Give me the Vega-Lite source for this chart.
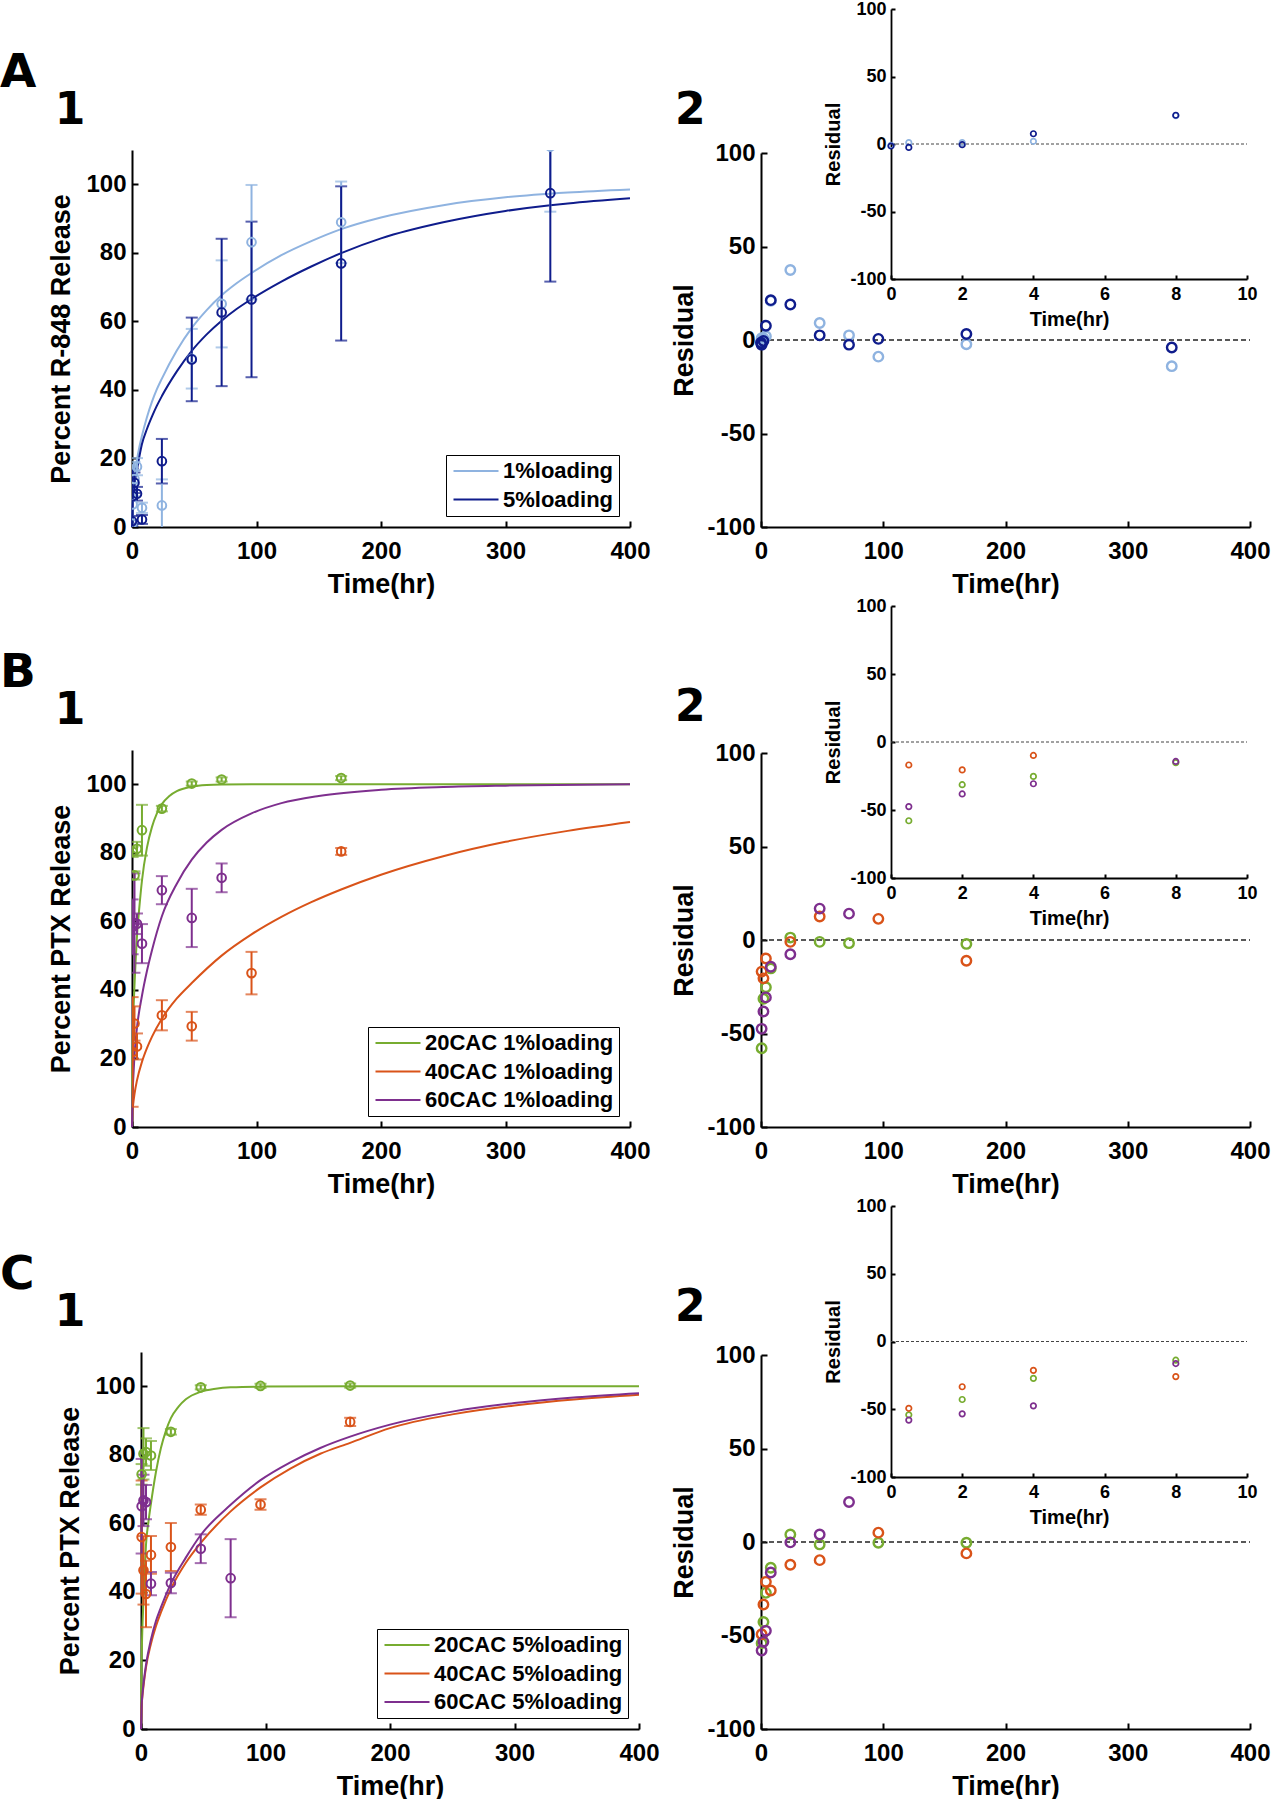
{
  "$schema": "https://vega.github.io/schema/vega-lite/v6.json",
  "padding": 0,
  "background": "white",
  "columns": 2,
  "spacing": {"row": 0, "column": 10},
  "resolve": {"scale": {"color": "independent", "x": "independent", "y": "independent"}, "legend": {"color": "independent"}},
  "config": {
    "view": {"stroke": null},
    "font": "Liberation Sans",
    "axis": {"labelFont": "Liberation Sans", "labelFontWeight": "bold", "titleFont": "Liberation Sans", "titleFontWeight": "bold", "labelColor": "black", "titleColor": "black", "domainColor": "black", "tickColor": "black", "grid": false, "domainWidth": 2, "tickWidth": 2, "labelFlush": false, "labelOverlap": false, "labelExpr": "'' + datum.value"},
    "legend": {"orient": "bottom-right", "offset": 11, "title": null, "symbolType": "M-2.5,0H2.5", "symbolSize": 324, "symbolStrokeWidth": 2, "labelFont": "Liberation Sans", "labelFontSize": 22, "labelFontWeight": "bold", "labelColor": "black", "labelLimit": 0, "strokeColor": "black", "fillColor": "white", "padding": 5, "rowPadding": 6.5, "symbolOffset": 14, "labelOffset": 16},
    "title": {"anchor": "start", "frame": "group", "font": "DejaVu Sans", "fontWeight": "bold", "color": "black", "subtitleFont": "DejaVu Sans", "subtitleFontWeight": "bold", "subtitleColor": "black"}
  },
  "datasets": {
    "a1fit": [
      {"t":0,"v":0,"s":"1%loading"},{"t":0.5,"v":7.6,"s":"1%loading"},{"t":1,"v":10.2,"s":"1%loading"},{"t":2,"v":14,"s":"1%loading"},{"t":4,"v":19.6,"s":"1%loading"},{"t":6,"v":23.5,"s":"1%loading"},{"t":8,"v":26.6,"s":"1%loading"},{"t":12,"v":32,"s":"1%loading"},{"t":16,"v":36.5,"s":"1%loading"},{"t":20,"v":40.2,"s":"1%loading"},{"t":24,"v":43.3,"s":"1%loading"},{"t":36,"v":51.5,"s":"1%loading"},{"t":48,"v":58.1,"s":"1%loading"},{"t":60,"v":63.3,"s":"1%loading"},{"t":72,"v":67.6,"s":"1%loading"},{"t":84,"v":71.1,"s":"1%loading"},{"t":96,"v":74.1,"s":"1%loading"},{"t":120,"v":79.3,"s":"1%loading"},{"t":144,"v":83.4,"s":"1%loading"},{"t":168,"v":86.9,"s":"1%loading"},{"t":200,"v":90.3,"s":"1%loading"},{"t":250,"v":93.9,"s":"1%loading"},{"t":300,"v":96.2,"s":"1%loading"},{"t":350,"v":97.6,"s":"1%loading"},{"t":400,"v":98.5,"s":"1%loading"},
      {"t":0,"v":0,"s":"5%loading"},{"t":0.5,"v":6.5,"s":"5%loading"},{"t":1,"v":8.8,"s":"5%loading"},{"t":2,"v":12.4,"s":"5%loading"},{"t":4,"v":16.7,"s":"5%loading"},{"t":6,"v":20.7,"s":"5%loading"},{"t":8,"v":24.2,"s":"5%loading"},{"t":12,"v":28.6,"s":"5%loading"},{"t":16,"v":32.2,"s":"5%loading"},{"t":20,"v":35.4,"s":"5%loading"},{"t":24,"v":38.2,"s":"5%loading"},{"t":36,"v":45.4,"s":"5%loading"},{"t":48,"v":51.4,"s":"5%loading"},{"t":60,"v":56.2,"s":"5%loading"},{"t":72,"v":60.2,"s":"5%loading"},{"t":84,"v":63.6,"s":"5%loading"},{"t":96,"v":66.5,"s":"5%loading"},{"t":120,"v":71.6,"s":"5%loading"},{"t":144,"v":76,"s":"5%loading"},{"t":168,"v":79.9,"s":"5%loading"},{"t":200,"v":84.2,"s":"5%loading"},{"t":250,"v":88.9,"s":"5%loading"},{"t":300,"v":92.2,"s":"5%loading"},{"t":336,"v":93.9,"s":"5%loading"},{"t":350,"v":94.4,"s":"5%loading"},{"t":400,"v":95.9,"s":"5%loading"}
    ],
    "a1pts": [
      {"t":0,"v":1.0,"e":1.0,"s":"1%loading"},{"t":0.5,"v":6.6,"e":6,"s":"1%loading"},{"t":2,"v":14,"e":5,"s":"1%loading"},{"t":4,"v":17.6,"e":2.5,"s":"1%loading"},{"t":8,"v":5.6,"e":1.5,"s":"1%loading"},{"t":24,"v":6.3,"e":7.6,"s":"1%loading"},{"t":48,"v":49.1,"e":8.7,"s":"1%loading"},{"t":72,"v":65.1,"e":12.7,"s":"1%loading"},{"t":96,"v":83.1,"e":16.7,"s":"1%loading"},{"t":168,"v":88.9,"e":11.9,"s":"1%loading"},{"t":336,"v":111,"e":19,"s":"1%loading"},
      {"t":0,"v":1.7,"e":1.5,"s":"5%loading"},{"t":0.5,"v":9.0,"e":8,"s":"5%loading"},{"t":2,"v":12.9,"e":3,"s":"5%loading"},{"t":4,"v":9.7,"e":2,"s":"5%loading"},{"t":8,"v":2.2,"e":1.3,"s":"5%loading"},{"t":24,"v":19.2,"e":6.5,"s":"5%loading"},{"t":48,"v":48.9,"e":12.2,"s":"5%loading"},{"t":72,"v":62.6,"e":21.5,"s":"5%loading"},{"t":96,"v":66.4,"e":22.7,"s":"5%loading"},{"t":168,"v":76.9,"e":22.5,"s":"5%loading"},{"t":336,"v":97.4,"e":25.8,"s":"5%loading"}
    ],
    "a2res": [
      {"t":0,"r":-1,"s":"1%loading"},{"t":0.5,"r":1,"s":"1%loading"},{"t":2,"r":1,"s":"1%loading"},{"t":4,"r":2,"s":"1%loading"},{"t":8,"r":21,"s":"1%loading"},{"t":24,"r":37.4,"s":"1%loading"},{"t":48,"r":9.1,"s":"1%loading"},{"t":72,"r":2.5,"s":"1%loading"},{"t":96,"r":-8.9,"s":"1%loading"},{"t":168,"r":-2.3,"s":"1%loading"},{"t":336,"r":-14,"s":"1%loading"},
      {"t":0,"r":-1.5,"s":"5%loading"},{"t":0.5,"r":-2.5,"s":"5%loading"},{"t":2,"r":-0.5,"s":"5%loading"},{"t":4,"r":7.6,"s":"5%loading"},{"t":8,"r":21.3,"s":"5%loading"},{"t":24,"r":19,"s":"5%loading"},{"t":48,"r":2.5,"s":"5%loading"},{"t":72,"r":-2.5,"s":"5%loading"},{"t":96,"r":0.6,"s":"5%loading"},{"t":168,"r":3.2,"s":"5%loading"},{"t":336,"r":-4,"s":"5%loading"}
    ],
    "b1fit": [
      {"t":0,"v":0,"s":"20CAC 1%loading"},{"t":0.25,"v":14,"s":"20CAC 1%loading"},{"t":0.5,"v":22.3,"s":"20CAC 1%loading"},{"t":1,"v":31,"s":"20CAC 1%loading"},{"t":2,"v":41.4,"s":"20CAC 1%loading"},{"t":3,"v":49,"s":"20CAC 1%loading"},{"t":4,"v":55.6,"s":"20CAC 1%loading"},{"t":6,"v":64.5,"s":"20CAC 1%loading"},{"t":8,"v":71.9,"s":"20CAC 1%loading"},{"t":12,"v":81.5,"s":"20CAC 1%loading"},{"t":16,"v":87.5,"s":"20CAC 1%loading"},{"t":20,"v":91.5,"s":"20CAC 1%loading"},{"t":24,"v":94.2,"s":"20CAC 1%loading"},{"t":30,"v":96.6,"s":"20CAC 1%loading"},{"t":36,"v":98,"s":"20CAC 1%loading"},{"t":48,"v":99.3,"s":"20CAC 1%loading"},{"t":60,"v":99.8,"s":"20CAC 1%loading"},{"t":72,"v":99.95,"s":"20CAC 1%loading"},{"t":96,"v":100,"s":"20CAC 1%loading"},{"t":168,"v":100,"s":"20CAC 1%loading"},{"t":400,"v":100,"s":"20CAC 1%loading"},
      {"t":0,"v":0,"s":"40CAC 1%loading"},{"t":0.5,"v":4.9,"s":"40CAC 1%loading"},{"t":1,"v":6.8,"s":"40CAC 1%loading"},{"t":2,"v":9.6,"s":"40CAC 1%loading"},{"t":4,"v":13.6,"s":"40CAC 1%loading"},{"t":8,"v":19,"s":"40CAC 1%loading"},{"t":12,"v":23,"s":"40CAC 1%loading"},{"t":16,"v":26.3,"s":"40CAC 1%loading"},{"t":24,"v":31.6,"s":"40CAC 1%loading"},{"t":36,"v":37.5,"s":"40CAC 1%loading"},{"t":48,"v":42,"s":"40CAC 1%loading"},{"t":72,"v":50,"s":"40CAC 1%loading"},{"t":96,"v":56.2,"s":"40CAC 1%loading"},{"t":120,"v":61.3,"s":"40CAC 1%loading"},{"t":144,"v":65.6,"s":"40CAC 1%loading"},{"t":168,"v":69.3,"s":"40CAC 1%loading"},{"t":200,"v":73.6,"s":"40CAC 1%loading"},{"t":250,"v":79,"s":"40CAC 1%loading"},{"t":300,"v":83.2,"s":"40CAC 1%loading"},{"t":350,"v":86.4,"s":"40CAC 1%loading"},{"t":400,"v":89,"s":"40CAC 1%loading"},
      {"t":0,"v":0,"s":"60CAC 1%loading"},{"t":0.5,"v":10,"s":"60CAC 1%loading"},{"t":1,"v":14,"s":"60CAC 1%loading"},{"t":2,"v":21,"s":"60CAC 1%loading"},{"t":4,"v":29,"s":"60CAC 1%loading"},{"t":8,"v":38.3,"s":"60CAC 1%loading"},{"t":12,"v":45.5,"s":"60CAC 1%loading"},{"t":16,"v":51.5,"s":"60CAC 1%loading"},{"t":24,"v":61.5,"s":"60CAC 1%loading"},{"t":36,"v":71,"s":"60CAC 1%loading"},{"t":48,"v":78,"s":"60CAC 1%loading"},{"t":60,"v":83,"s":"60CAC 1%loading"},{"t":72,"v":86.7,"s":"60CAC 1%loading"},{"t":96,"v":91.5,"s":"60CAC 1%loading"},{"t":120,"v":94.5,"s":"60CAC 1%loading"},{"t":150,"v":96.6,"s":"60CAC 1%loading"},{"t":200,"v":98.4,"s":"60CAC 1%loading"},{"t":250,"v":99.2,"s":"60CAC 1%loading"},{"t":300,"v":99.6,"s":"60CAC 1%loading"},{"t":400,"v":100,"s":"60CAC 1%loading"}
    ],
    "b1pts": [
      {"t":0.5,"v":80.3,"e":1.5,"s":"20CAC 1%loading"},{"t":2,"v":73.4,"e":1.2,"s":"20CAC 1%loading"},{"t":4,"v":81.2,"e":2,"s":"20CAC 1%loading"},{"t":8,"v":86.6,"e":7.4,"s":"20CAC 1%loading"},{"t":24,"v":92.9,"e":0.8,"s":"20CAC 1%loading"},{"t":48,"v":100.2,"e":0.6,"s":"20CAC 1%loading"},{"t":72,"v":101.4,"e":0.6,"s":"20CAC 1%loading"},{"t":168,"v":101.8,"e":0.6,"s":"20CAC 1%loading"},
      {"t":0.5,"v":21.9,"e":16,"s":"40CAC 1%loading"},{"t":2,"v":30.2,"e":5,"s":"40CAC 1%loading"},{"t":4,"v":23.5,"e":3.8,"s":"40CAC 1%loading"},{"t":24,"v":32.6,"e":4.4,"s":"40CAC 1%loading"},{"t":48,"v":29.4,"e":4.2,"s":"40CAC 1%loading"},{"t":96,"v":44.9,"e":6.2,"s":"40CAC 1%loading"},{"t":168,"v":80.4,"e":1,"s":"40CAC 1%loading"},
      {"t":0.5,"v":58.4,"e":8,"s":"60CAC 1%loading"},{"t":2,"v":59.5,"e":14.5,"s":"60CAC 1%loading"},{"t":4,"v":59.3,"e":3,"s":"60CAC 1%loading"},{"t":8,"v":53.5,"e":5.7,"s":"60CAC 1%loading"},{"t":24,"v":69.1,"e":4.1,"s":"60CAC 1%loading"},{"t":48,"v":61,"e":8.5,"s":"60CAC 1%loading"},{"t":72,"v":72.7,"e":4.2,"s":"60CAC 1%loading"}
    ],
    "b2res": [
      {"t":0.5,"r":-57.9,"s":"20CAC 1%loading"},{"t":2,"r":-31.4,"s":"20CAC 1%loading"},{"t":4,"r":-25.3,"s":"20CAC 1%loading"},{"t":8,"r":-15.2,"s":"20CAC 1%loading"},{"t":24,"r":1.3,"s":"20CAC 1%loading"},{"t":48,"r":-1,"s":"20CAC 1%loading"},{"t":72,"r":-1.7,"s":"20CAC 1%loading"},{"t":168,"r":-2.1,"s":"20CAC 1%loading"},
      {"t":0.5,"r":-16.9,"s":"40CAC 1%loading"},{"t":2,"r":-20.5,"s":"40CAC 1%loading"},{"t":4,"r":-9.9,"s":"40CAC 1%loading"},{"t":24,"r":-1,"s":"40CAC 1%loading"},{"t":48,"r":12.6,"s":"40CAC 1%loading"},{"t":96,"r":11.3,"s":"40CAC 1%loading"},{"t":168,"r":-11.1,"s":"40CAC 1%loading"},
      {"t":0.5,"r":-47.5,"s":"60CAC 1%loading"},{"t":2,"r":-38.2,"s":"60CAC 1%loading"},{"t":4,"r":-30.7,"s":"60CAC 1%loading"},{"t":8,"r":-14.3,"s":"60CAC 1%loading"},{"t":24,"r":-7.6,"s":"60CAC 1%loading"},{"t":48,"r":16.8,"s":"60CAC 1%loading"},{"t":72,"r":14.1,"s":"60CAC 1%loading"}
    ],
    "c1fit": [
      {"t":0,"v":0,"s":"20CAC 5%loading"},{"t":0.25,"v":13,"s":"20CAC 5%loading"},{"t":0.5,"v":20.2,"s":"20CAC 5%loading"},{"t":1,"v":28,"s":"20CAC 5%loading"},{"t":2,"v":37.5,"s":"20CAC 5%loading"},{"t":3,"v":46,"s":"20CAC 5%loading"},{"t":4,"v":53.7,"s":"20CAC 5%loading"},{"t":6,"v":60.5,"s":"20CAC 5%loading"},{"t":8,"v":65.8,"s":"20CAC 5%loading"},{"t":12,"v":75,"s":"20CAC 5%loading"},{"t":16,"v":82,"s":"20CAC 5%loading"},{"t":20,"v":87,"s":"20CAC 5%loading"},{"t":24,"v":90.7,"s":"20CAC 5%loading"},{"t":30,"v":94,"s":"20CAC 5%loading"},{"t":36,"v":96.2,"s":"20CAC 5%loading"},{"t":48,"v":98.4,"s":"20CAC 5%loading"},{"t":60,"v":99.3,"s":"20CAC 5%loading"},{"t":72,"v":99.7,"s":"20CAC 5%loading"},{"t":96,"v":99.9,"s":"20CAC 5%loading"},{"t":168,"v":100,"s":"20CAC 5%loading"},{"t":400,"v":100,"s":"20CAC 5%loading"},
      {"t":0,"v":0,"s":"40CAC 5%loading"},{"t":0.5,"v":6.5,"s":"40CAC 5%loading"},{"t":1,"v":9,"s":"40CAC 5%loading"},{"t":2,"v":12.5,"s":"40CAC 5%loading"},{"t":4,"v":18,"s":"40CAC 5%loading"},{"t":8,"v":24.9,"s":"40CAC 5%loading"},{"t":12,"v":30,"s":"40CAC 5%loading"},{"t":16,"v":34,"s":"40CAC 5%loading"},{"t":24,"v":40.9,"s":"40CAC 5%loading"},{"t":36,"v":48.5,"s":"40CAC 5%loading"},{"t":48,"v":54.3,"s":"40CAC 5%loading"},{"t":72,"v":63.5,"s":"40CAC 5%loading"},{"t":96,"v":70.5,"s":"40CAC 5%loading"},{"t":120,"v":76,"s":"40CAC 5%loading"},{"t":144,"v":80.3,"s":"40CAC 5%loading"},{"t":168,"v":83.5,"s":"40CAC 5%loading"},{"t":200,"v":87.8,"s":"40CAC 5%loading"},{"t":250,"v":91.8,"s":"40CAC 5%loading"},{"t":300,"v":94.4,"s":"40CAC 5%loading"},{"t":350,"v":96.2,"s":"40CAC 5%loading"},{"t":400,"v":97.5,"s":"40CAC 5%loading"},
      {"t":0,"v":0,"s":"60CAC 5%loading"},{"t":0.5,"v":7,"s":"60CAC 5%loading"},{"t":1,"v":9.5,"s":"60CAC 5%loading"},{"t":2,"v":13.1,"s":"60CAC 5%loading"},{"t":4,"v":18.7,"s":"60CAC 5%loading"},{"t":8,"v":26.1,"s":"60CAC 5%loading"},{"t":12,"v":31.5,"s":"60CAC 5%loading"},{"t":16,"v":35.5,"s":"60CAC 5%loading"},{"t":24,"v":42.4,"s":"60CAC 5%loading"},{"t":36,"v":50,"s":"60CAC 5%loading"},{"t":48,"v":56.6,"s":"60CAC 5%loading"},{"t":72,"v":65.4,"s":"60CAC 5%loading"},{"t":96,"v":72.6,"s":"60CAC 5%loading"},{"t":120,"v":77.8,"s":"60CAC 5%loading"},{"t":144,"v":82,"s":"60CAC 5%loading"},{"t":168,"v":85.3,"s":"60CAC 5%loading"},{"t":200,"v":88.8,"s":"60CAC 5%loading"},{"t":250,"v":92.6,"s":"60CAC 5%loading"},{"t":300,"v":95.1,"s":"60CAC 5%loading"},{"t":350,"v":96.8,"s":"60CAC 5%loading"},{"t":400,"v":98,"s":"60CAC 5%loading"}
    ],
    "c1pts": [
      {"t":0.5,"v":74.3,"e":3,"s":"20CAC 5%loading"},{"t":2,"v":80.3,"e":7.5,"s":"20CAC 5%loading"},{"t":4,"v":80.8,"e":4,"s":"20CAC 5%loading"},{"t":8,"v":79.8,"e":4.2,"s":"20CAC 5%loading"},{"t":24,"v":86.7,"e":0.8,"s":"20CAC 5%loading"},{"t":48,"v":99.7,"e":0.6,"s":"20CAC 5%loading"},{"t":96,"v":100.1,"e":0.6,"s":"20CAC 5%loading"},{"t":168,"v":100.2,"e":0.6,"s":"20CAC 5%loading"},
      {"t":0.5,"v":56,"e":16.5,"s":"40CAC 5%loading"},{"t":2,"v":46.3,"e":10,"s":"40CAC 5%loading"},{"t":4,"v":39.4,"e":9.7,"s":"40CAC 5%loading"},{"t":8,"v":50.8,"e":5.5,"s":"40CAC 5%loading"},{"t":24,"v":53.1,"e":7,"s":"40CAC 5%loading"},{"t":48,"v":64,"e":1.5,"s":"40CAC 5%loading"},{"t":96,"v":65.5,"e":1.5,"s":"40CAC 5%loading"},{"t":168,"v":89.6,"e":1.2,"s":"40CAC 5%loading"},
      {"t":0.5,"v":65,"e":13.8,"s":"60CAC 5%loading"},{"t":2,"v":66.7,"e":7.5,"s":"60CAC 5%loading"},{"t":4,"v":66.2,"e":5,"s":"60CAC 5%loading"},{"t":8,"v":42.4,"e":3.4,"s":"60CAC 5%loading"},{"t":24,"v":42.6,"e":3,"s":"60CAC 5%loading"},{"t":48,"v":52.6,"e":4.2,"s":"60CAC 5%loading"},{"t":72,"v":44,"e":11.4,"s":"60CAC 5%loading"}
    ],
    "c2res": [
      {"t":0.5,"r":-54.1,"s":"20CAC 5%loading"},{"t":2,"r":-42.8,"s":"20CAC 5%loading"},{"t":4,"r":-27.2,"s":"20CAC 5%loading"},{"t":8,"r":-13.8,"s":"20CAC 5%loading"},{"t":24,"r":4,"s":"20CAC 5%loading"},{"t":48,"r":-1.3,"s":"20CAC 5%loading"},{"t":96,"r":-0.4,"s":"20CAC 5%loading"},{"t":168,"r":-0.4,"s":"20CAC 5%loading"},
      {"t":0.5,"r":-49.3,"s":"40CAC 5%loading"},{"t":2,"r":-33.4,"s":"40CAC 5%loading"},{"t":4,"r":-21.3,"s":"40CAC 5%loading"},{"t":8,"r":-25.9,"s":"40CAC 5%loading"},{"t":24,"r":-12.2,"s":"40CAC 5%loading"},{"t":48,"r":-9.7,"s":"40CAC 5%loading"},{"t":96,"r":5,"s":"40CAC 5%loading"},{"t":168,"r":-6.1,"s":"40CAC 5%loading"},
      {"t":0.5,"r":-58,"s":"60CAC 5%loading"},{"t":2,"r":-53.4,"s":"60CAC 5%loading"},{"t":4,"r":-47.5,"s":"60CAC 5%loading"},{"t":8,"r":-16.3,"s":"60CAC 5%loading"},{"t":24,"r":-0.2,"s":"60CAC 5%loading"},{"t":48,"r":4,"s":"60CAC 5%loading"},{"t":72,"r":21.4,"s":"60CAC 5%loading"}
    ]
  },
  "concat": [
    {
      "width": 498, "height": 377,
      "title": {"text": "A", "subtitle": "\u200b\u00a0\u00a0\u00a0\u20091", "dx": -132, "offset": 16, "fontSize": 47, "subtitleFontSize": 44, "subtitlePadding": -8},
      "encoding": {
        "x": {"field": "t", "type": "quantitative", "scale": {"domain": [0, 400]}, "axis": {"orient": "bottom", "values": [0, 100, 200, 300, 400], "title": "Time(hr)", "titleFontSize": 27, "labelFontSize": 24, "tickSize": -6, "labelPadding": 18, "titlePadding": 8}},
        "y": {"field": "v", "type": "quantitative", "scale": {"domain": [0, 110]}, "axis": {"orient": "left", "values": [0, 20, 40, 60, 80, 100], "title": "Percent R-848 Release", "titleFontSize": 27, "labelFontSize": 24, "tickSize": -6, "labelPadding": 12, "titlePadding": 10}},
        "color": {"field": "s", "type": "nominal", "scale": {"domain": ["1%loading", "5%loading"], "range": ["#8fb3e0", "#0f1c8c"]}, "legend": null}
      },
      "layer": [
        {"data": {"name": "a1fit"}, "mark": {"type": "line", "strokeWidth": 2, "interpolate": "monotone"},
         "encoding": {"color": {"field": "s", "type": "nominal", "scale": {"domain": ["1%loading", "5%loading"], "range": ["#8fb3e0", "#0f1c8c"]}, "legend": {}}}},
        {"data": {"name": "a1pts"}, "mark": {"type": "errorbar", "ticks": true, "size": 12, "thickness": 2, "clip": true},
         "encoding": {"yError": {"field": "e"}}},
        {"data": {"name": "a1pts"}, "mark": {"type": "point", "shape": "circle", "filled": false, "size": 75, "strokeWidth": 2, "opacity": 1, "clip": true}}
      ]
    },
    {
      "width": 489, "height": 377,
      "title": {"text": "2", "dx": -86, "offset": -133, "fontSize": 44},
      "resolve": {"scale": {"x": "independent", "y": "independent"}, "axis": {"x": "independent", "y": "independent"}},
      "layer": [
        {"layer": [
          {"data": {"values": [{}]}, "mark": {"type": "rule", "strokeDash": [5, 3], "strokeWidth": 1.3, "color": "#222"},
           "encoding": {"x": {"datum": 0, "type": "quantitative"}, "x2": {"datum": 400}, "y": {"datum": 0, "type": "quantitative"}}},
          {"data": {"name": "a2res"}, "mark": {"type": "point", "shape": "circle", "filled": false, "size": 90, "strokeWidth": 2.4, "opacity": 1},
           "encoding": {
             "x": {"field": "t", "type": "quantitative"},
             "y": {"field": "r", "type": "quantitative"},
             "color": {"field": "s", "type": "nominal", "scale": {"domain": ["1%loading", "5%loading"], "range": ["#8fb3e0", "#0f1c8c"]}, "legend": null}}}
         ],
         "encoding": {
           "x": {"scale": {"domain": [0, 400]}, "axis": {"orient": "bottom", "values": [0, 100, 200, 300, 400], "title": "Time(hr)", "titleFontSize": 27, "labelFontSize": 24, "tickSize": -6, "labelPadding": 18, "titlePadding": 8}},
           "y": {"scale": {"domain": [-100, 100], "range": [377, 3]}, "axis": {"orient": "left", "values": [-100, -50, 0, 50, 100], "title": "Residual", "titleFontSize": 27, "labelFontSize": 24, "tickSize": -6, "labelPadding": 12, "titlePadding": 8}}
         }},
        {"layer": [
          {"data": {"values": [{}]}, "mark": {"type": "rule", "strokeDash": [3, 2], "strokeWidth": 1, "color": "#444"},
           "encoding": {"x": {"datum": 0, "type": "quantitative"}, "x2": {"datum": 10}, "y": {"datum": 0, "type": "quantitative"}}},
          {"data": {"name": "a2res"}, "transform": [{"filter": "datum.t <= 10"}], "mark": {"type": "point", "shape": "circle", "filled": false, "size": 30, "strokeWidth": 1.7, "opacity": 1},
           "encoding": {
             "x": {"field": "t", "type": "quantitative"},
             "y": {"field": "r", "type": "quantitative"},
             "color": {"field": "s", "type": "nominal", "scale": {"domain": ["1%loading", "5%loading"], "range": ["#8fb3e0", "#0f1c8c"]}, "legend": null}}}
         ],
         "encoding": {
           "x": {"scale": {"domain": [0, 10], "range": [130, 486]}, "axis": {"orient": "bottom", "offset": -248, "values": [0, 2, 4, 6, 8, 10], "title": "Time(hr)", "titleFontSize": 20, "labelFontSize": 18, "tickSize": -4, "labelPadding": 10, "titlePadding": 6, "domainWidth": 1.8}},
           "y": {"scale": {"domain": [-100, 100], "range": [129, -141]}, "axis": {"orient": "left", "offset": -130, "values": [-100, -50, 0, 50, 100], "title": "Residual", "titleFontSize": 20, "labelFontSize": 18, "tickSize": -4, "labelPadding": 9, "titlePadding": 6, "domainWidth": 1.8}}
         }}
      ]
    },
    {
      "width": 498, "height": 377,
      "title": {"text": "B", "subtitle": "\u200b\u00a0\u00a0\u00a0\u20091", "dx": -132, "offset": 16, "fontSize": 47, "subtitleFontSize": 44, "subtitlePadding": -8},
      "encoding": {
        "x": {"field": "t", "type": "quantitative", "scale": {"domain": [0, 400]}, "axis": {"orient": "bottom", "values": [0, 100, 200, 300, 400], "title": "Time(hr)", "titleFontSize": 27, "labelFontSize": 24, "tickSize": -6, "labelPadding": 18, "titlePadding": 8}},
        "y": {"field": "v", "type": "quantitative", "scale": {"domain": [0, 110]}, "axis": {"orient": "left", "values": [0, 20, 40, 60, 80, 100], "title": "Percent PTX Release", "titleFontSize": 27, "labelFontSize": 24, "tickSize": -6, "labelPadding": 12, "titlePadding": 10}},
        "color": {"field": "s", "type": "nominal", "scale": {"domain": ["20CAC 1%loading", "40CAC 1%loading", "60CAC 1%loading"], "range": ["#77ac30", "#d95319", "#7e2f8e"]}, "legend": null}
      },
      "layer": [
        {"data": {"name": "b1fit"}, "mark": {"type": "line", "strokeWidth": 2, "interpolate": "monotone"},
         "encoding": {"color": {"field": "s", "type": "nominal", "scale": {"domain": ["20CAC 1%loading", "40CAC 1%loading", "60CAC 1%loading"], "range": ["#77ac30", "#d95319", "#7e2f8e"]}, "legend": {}}}},
        {"data": {"name": "b1pts"}, "mark": {"type": "errorbar", "ticks": true, "size": 12, "thickness": 2, "clip": true},
         "encoding": {"yError": {"field": "e"}}},
        {"data": {"name": "b1pts"}, "mark": {"type": "point", "shape": "circle", "filled": false, "size": 75, "strokeWidth": 2, "opacity": 1, "clip": true}}
      ]
    },
    {
      "width": 489, "height": 377,
      "title": {"text": "2", "dx": -86, "offset": -133, "fontSize": 44},
      "resolve": {"scale": {"x": "independent", "y": "independent"}, "axis": {"x": "independent", "y": "independent"}},
      "layer": [
        {"layer": [
          {"data": {"values": [{}]}, "mark": {"type": "rule", "strokeDash": [5, 3], "strokeWidth": 1.3, "color": "#222"},
           "encoding": {"x": {"datum": 0, "type": "quantitative"}, "x2": {"datum": 400}, "y": {"datum": 0, "type": "quantitative"}}},
          {"data": {"name": "b2res"}, "mark": {"type": "point", "shape": "circle", "filled": false, "size": 90, "strokeWidth": 2.4, "opacity": 1},
           "encoding": {
             "x": {"field": "t", "type": "quantitative"},
             "y": {"field": "r", "type": "quantitative"},
             "color": {"field": "s", "type": "nominal", "scale": {"domain": ["20CAC 1%loading", "40CAC 1%loading", "60CAC 1%loading"], "range": ["#77ac30", "#d95319", "#7e2f8e"]}, "legend": null}}}
         ],
         "encoding": {
           "x": {"scale": {"domain": [0, 400]}, "axis": {"orient": "bottom", "values": [0, 100, 200, 300, 400], "title": "Time(hr)", "titleFontSize": 27, "labelFontSize": 24, "tickSize": -6, "labelPadding": 18, "titlePadding": 8}},
           "y": {"scale": {"domain": [-100, 100], "range": [377, 3]}, "axis": {"orient": "left", "values": [-100, -50, 0, 50, 100], "title": "Residual", "titleFontSize": 27, "labelFontSize": 24, "tickSize": -6, "labelPadding": 12, "titlePadding": 8}}
         }},
        {"layer": [
          {"data": {"values": [{}]}, "mark": {"type": "rule", "strokeDash": [3, 2], "strokeWidth": 1, "color": "#444"},
           "encoding": {"x": {"datum": 0, "type": "quantitative"}, "x2": {"datum": 10}, "y": {"datum": 0, "type": "quantitative"}}},
          {"data": {"name": "b2res"}, "transform": [{"filter": "datum.t <= 10"}], "mark": {"type": "point", "shape": "circle", "filled": false, "size": 30, "strokeWidth": 1.7, "opacity": 1},
           "encoding": {
             "x": {"field": "t", "type": "quantitative"},
             "y": {"field": "r", "type": "quantitative"},
             "color": {"field": "s", "type": "nominal", "scale": {"domain": ["20CAC 1%loading", "40CAC 1%loading", "60CAC 1%loading"], "range": ["#77ac30", "#d95319", "#7e2f8e"]}, "legend": null}}}
         ],
         "encoding": {
           "x": {"scale": {"domain": [0, 10], "range": [130, 486]}, "axis": {"orient": "bottom", "offset": -249, "values": [0, 2, 4, 6, 8, 10], "title": "Time(hr)", "titleFontSize": 20, "labelFontSize": 18, "tickSize": -4, "labelPadding": 10, "titlePadding": 6, "domainWidth": 1.8}},
           "y": {"scale": {"domain": [-100, 100], "range": [128, -144]}, "axis": {"orient": "left", "offset": -130, "values": [-100, -50, 0, 50, 100], "title": "Residual", "titleFontSize": 20, "labelFontSize": 18, "tickSize": -4, "labelPadding": 9, "titlePadding": 6, "domainWidth": 1.8}}
         }}
      ]
    },
    {
      "width": 507, "height": 377,
      "title": {"text": "C", "subtitle": "\u200b\u00a0\u00a0\u00a0\u20091", "dx": -132, "offset": 16, "fontSize": 47, "subtitleFontSize": 44, "subtitlePadding": -8},
      "encoding": {
        "x": {"field": "t", "type": "quantitative", "scale": {"domain": [0, 400], "range": [9, 507]}, "axis": {"orient": "bottom", "values": [0, 100, 200, 300, 400], "title": "Time(hr)", "titleFontSize": 27, "labelFontSize": 24, "tickSize": -6, "labelPadding": 18, "titlePadding": 8}},
        "y": {"field": "v", "type": "quantitative", "scale": {"domain": [0, 110]}, "axis": {"orient": "left", "offset": -9, "values": [0, 20, 40, 60, 80, 100], "title": "Percent PTX Release", "titleFontSize": 27, "labelFontSize": 24, "tickSize": -6, "labelPadding": 12, "titlePadding": 10}},
        "color": {"field": "s", "type": "nominal", "scale": {"domain": ["20CAC 5%loading", "40CAC 5%loading", "60CAC 5%loading"], "range": ["#77ac30", "#d95319", "#7e2f8e"]}, "legend": null}
      },
      "layer": [
        {"data": {"name": "c1fit"}, "mark": {"type": "line", "strokeWidth": 2, "interpolate": "monotone"},
         "encoding": {"color": {"field": "s", "type": "nominal", "scale": {"domain": ["20CAC 5%loading", "40CAC 5%loading", "60CAC 5%loading"], "range": ["#77ac30", "#d95319", "#7e2f8e"]}, "legend": {}}}},
        {"data": {"name": "c1pts"}, "mark": {"type": "errorbar", "ticks": true, "size": 12, "thickness": 2, "clip": true},
         "encoding": {"yError": {"field": "e"}}},
        {"data": {"name": "c1pts"}, "mark": {"type": "point", "shape": "circle", "filled": false, "size": 75, "strokeWidth": 2, "opacity": 1, "clip": true}}
      ]
    },
    {
      "width": 489, "height": 377,
      "title": {"text": "2", "dx": -86, "offset": -133, "fontSize": 44},
      "resolve": {"scale": {"x": "independent", "y": "independent"}, "axis": {"x": "independent", "y": "independent"}},
      "layer": [
        {"layer": [
          {"data": {"values": [{}]}, "mark": {"type": "rule", "strokeDash": [5, 3], "strokeWidth": 1.3, "color": "#222"},
           "encoding": {"x": {"datum": 0, "type": "quantitative"}, "x2": {"datum": 400}, "y": {"datum": 0, "type": "quantitative"}}},
          {"data": {"name": "c2res"}, "mark": {"type": "point", "shape": "circle", "filled": false, "size": 90, "strokeWidth": 2.4, "opacity": 1},
           "encoding": {
             "x": {"field": "t", "type": "quantitative"},
             "y": {"field": "r", "type": "quantitative"},
             "color": {"field": "s", "type": "nominal", "scale": {"domain": ["20CAC 5%loading", "40CAC 5%loading", "60CAC 5%loading"], "range": ["#77ac30", "#d95319", "#7e2f8e"]}, "legend": null}}}
         ],
         "encoding": {
           "x": {"scale": {"domain": [0, 400]}, "axis": {"orient": "bottom", "values": [0, 100, 200, 300, 400], "title": "Time(hr)", "titleFontSize": 27, "labelFontSize": 24, "tickSize": -6, "labelPadding": 18, "titlePadding": 8}},
           "y": {"scale": {"domain": [-100, 100], "range": [377, 3]}, "axis": {"orient": "left", "values": [-100, -50, 0, 50, 100], "title": "Residual", "titleFontSize": 27, "labelFontSize": 24, "tickSize": -6, "labelPadding": 12, "titlePadding": 8}}
         }},
        {"layer": [
          {"data": {"values": [{}]}, "mark": {"type": "rule", "strokeDash": [3, 2], "strokeWidth": 1, "color": "#444"},
           "encoding": {"x": {"datum": 0, "type": "quantitative"}, "x2": {"datum": 10}, "y": {"datum": 0, "type": "quantitative"}}},
          {"data": {"name": "c2res"}, "transform": [{"filter": "datum.t <= 10"}], "mark": {"type": "point", "shape": "circle", "filled": false, "size": 30, "strokeWidth": 1.7, "opacity": 1},
           "encoding": {
             "x": {"field": "t", "type": "quantitative"},
             "y": {"field": "r", "type": "quantitative"},
             "color": {"field": "s", "type": "nominal", "scale": {"domain": ["20CAC 5%loading", "40CAC 5%loading", "60CAC 5%loading"], "range": ["#77ac30", "#d95319", "#7e2f8e"]}, "legend": null}}}
         ],
         "encoding": {
           "x": {"scale": {"domain": [0, 10], "range": [130, 486]}, "axis": {"orient": "bottom", "offset": -252, "values": [0, 2, 4, 6, 8, 10], "title": "Time(hr)", "titleFontSize": 20, "labelFontSize": 18, "tickSize": -4, "labelPadding": 10, "titlePadding": 6, "domainWidth": 1.8}},
           "y": {"scale": {"domain": [-100, 100], "range": [125, -146]}, "axis": {"orient": "left", "offset": -130, "values": [-100, -50, 0, 50, 100], "title": "Residual", "titleFontSize": 20, "labelFontSize": 18, "tickSize": -4, "labelPadding": 9, "titlePadding": 6, "domainWidth": 1.8}}
         }}
      ]
    }
  ]
}
